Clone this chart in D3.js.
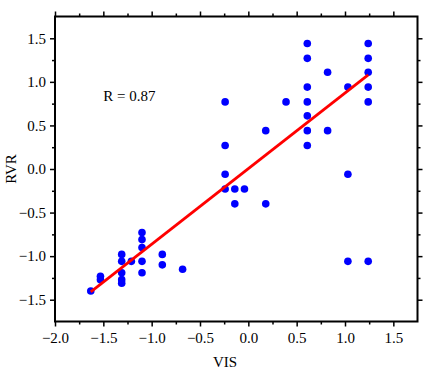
<!DOCTYPE html>
<html>
<head>
<meta charset="utf-8">
<script src="https://cdn.jsdelivr.net/npm/d3@7"></script>
<style>
  body { margin: 0; background: #fff; }
  text { font-family: "Liberation Serif", "Times New Roman", serif; }
</style>
</head>
<body>
<div id="chart-area"></div>
<script>
// scatter of VIS vs RVR, with fitted line

var visValues = [
    -1.63, -1.53, -1.53,
    -1.31, -1.31, -1.31, -1.31, -1.31,
    -1.21,
    -1.10, -1.10, -1.10, -1.10, -1.10,
    -0.89, -0.89, -0.68,
    -0.24, -0.24, -0.24, -0.24,
    -0.14, -0.14, -0.04,
    0.18, 0.18, 0.39,
    0.61, 0.61, 0.61, 0.61, 0.61, 0.61, 0.61,
    0.82, 0.82,
    1.03, 1.03, 1.03,
    1.24, 1.24, 1.24, 1.24, 1.24, 1.24
];
var rvrValues = [
    -1.40, -1.23, -1.27,
    -0.98, -1.06, -1.19, -1.27, -1.31,
    -1.06,
    -0.73, -0.81, -0.90, -1.06, -1.19,
    -0.98, -1.10, -1.15,
    0.77, 0.27, -0.06, -0.23,
    -0.23, -0.40, -0.23,
    0.44, -0.40, 0.77,
    1.44, 1.27, 0.94, 0.77, 0.61, 0.44, 0.27,
    1.11, 0.44,
    0.94, -0.06, -1.06,
    1.44, 1.27, 1.11, 0.94, 0.77, -1.06
];

// ends of the red fit line
var fitVis = [-1.63, 1.24];
var fitRvr = [-1.41, 1.08];

var xTicks = [-2.0, -1.5, -1.0, -0.5, 0.0, 0.5, 1.0, 1.5];
var yTicks = [-1.5, -1.0, -0.5, 0.0, 0.5, 1.0, 1.5];
var xMinor = [-1.75, -1.25, -0.75, -0.25, 0.25, 0.75, 1.25];
var yMinor = [-1.25, -0.75, -0.25, 0.25, 0.75, 1.25];
var rLabel = "R = 0.87";

var margin = { top: 16.5, right: 16.5, bottom: 50.5, left: 55 };
var width = 434 - margin.left - margin.right;
var height = 372 - margin.top - margin.bottom;

var svg = d3.select("#chart-area").append("svg")
    .attr("width", 434)
    .attr("height", 372);

var g = svg.append("g")
    .attr("transform", "translate(" + margin.left + ", " + margin.top + ")");

var x = d3.scaleLinear()
    .domain([-2.0, 1.75])
    .range([0, width]);

var y = d3.scaleLinear()
    .domain([-1.75, 1.75])
    .range([height, 0]);

var fmt = function(d) { return d3.format(".1f")(d).replace("-", "\u2212"); };

function styleAxis(sel) {
    sel.select(".domain").remove();
    sel.selectAll("line").attr("stroke", "#000").attr("stroke-width", 1.5);
    sel.selectAll("text")
        .attr("font-size", "15px")
        .attr("fill", "#000");
}

// major ticks with labels
g.append("g")
    .attr("transform", "translate(0," + height + ")")
    .call(d3.axisBottom(x).tickValues(xTicks).tickFormat(fmt).tickSize(5).tickPadding(6))
    .call(styleAxis);

g.append("g")
    .call(d3.axisLeft(y).tickValues(yTicks).tickFormat(fmt).tickSize(5).tickPadding(4))
    .call(styleAxis);

g.append("g")
    .call(d3.axisTop(x).tickValues(xTicks).tickFormat("").tickSize(5))
    .call(styleAxis);

g.append("g")
    .attr("transform", "translate(" + width + ",0)")
    .call(d3.axisRight(y).tickValues(yTicks).tickFormat("").tickSize(5))
    .call(styleAxis);

// minor ticks
g.append("g")
    .attr("transform", "translate(0," + height + ")")
    .call(d3.axisBottom(x).tickValues(xMinor).tickFormat("").tickSize(3))
    .call(styleAxis);
g.append("g")
    .call(d3.axisTop(x).tickValues(xMinor).tickFormat("").tickSize(3))
    .call(styleAxis);
g.append("g")
    .call(d3.axisLeft(y).tickValues(yMinor).tickFormat("").tickSize(3))
    .call(styleAxis);
g.append("g")
    .attr("transform", "translate(" + width + ",0)")
    .call(d3.axisRight(y).tickValues(yMinor).tickFormat("").tickSize(3))
    .call(styleAxis);

// frame
g.append("rect")
    .attr("x", 0)
    .attr("y", 0)
    .attr("width", width)
    .attr("height", height)
    .attr("fill", "none")
    .attr("stroke", "#000")
    .attr("stroke-width", 2);

// points
var points = visValues.map(function(v, i) { return { vis: v, rvr: rvrValues[i] }; });

g.selectAll("circle").data(points).enter().append("circle")
    .attr("cx", function(d) { return x(d.vis); })
    .attr("cy", function(d) { return y(d.rvr); })
    .attr("r", 3.8)
    .attr("fill", "#0000ff");

// fit line
var line = d3.line()
    .x(function(d) { return x(d[0]); })
    .y(function(d) { return y(d[1]); });

g.append("path")
    .datum(fitVis.map(function(v, i) { return [v, fitRvr[i]]; }))
    .attr("d", line)
    .attr("fill", "none")
    .attr("stroke", "#ff0000")
    .attr("stroke-width", 2.8);

// labels
g.append("text")
    .attr("x", x(-1.5))
    .attr("y", y(0.78))
    .attr("font-size", "15px")
    .text(rLabel);

g.append("text")
    .attr("x", 170)
    .attr("y", height + 45)
    .attr("font-size", "15px")
    .attr("text-anchor", "middle")
    .text("VIS");

g.append("text")
    .attr("x", -(y(0)))
    .attr("y", -39)
    .attr("font-size", "15px")
    .attr("text-anchor", "middle")
    .attr("transform", "rotate(-90)")
    .text("RVR");
</script>
</body>
</html>
